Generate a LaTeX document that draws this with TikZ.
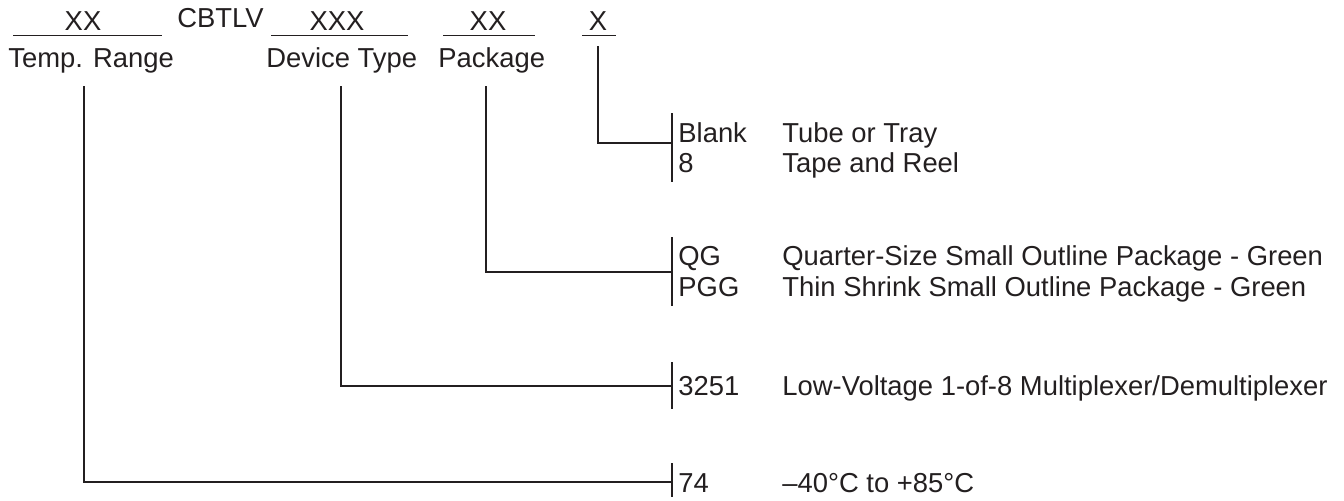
\documentclass[tikz,border=0pt]{standalone}
\usepackage{fontspec}
\setmainfont{Liberation Sans}
\definecolor{ink}{HTML}{231F20}
\begin{document}
\begin{tikzpicture}[x=0.5pt,y=-0.5pt,
  txt/.style={inner sep=0pt, text=ink, font=\fontsize{13.7}{16}\selectfont},
  lft/.style={txt, anchor=base west},
  mid/.style={txt, anchor=base},
  ln/.style={draw=ink, line width=0.6pt}]
\useasboundingbox (0,0) rectangle (1344,500);
% header codes
\node[mid] (cxx) at (83,30) {XX};
\node[lft] (cbt) at (177,27) {CBTLV};
\node[mid] (cxxx) at (337,30) {XXX};
\node[mid] (cpk) at (488,30) {XX};
\node[mid] (cx) at (598,30) {X};
% underlines
\coordinate (u1a) at (13,35.5); \coordinate (u1b) at (162,35.5);
\coordinate (u2a) at (271,35.5); \coordinate (u2b) at (408,35.5);
\coordinate (u3a) at (443,35.5); \coordinate (u3b) at (535,35.5);
\coordinate (u4a) at (582,35.5); \coordinate (u4b) at (616,35.5);
\draw[ln] (u1a) -- (u1b);
\draw[ln] (u2a) -- (u2b);
\draw[ln] (u3a) -- (u3b);
\draw[ln] (u4a) -- (u4b);
% header labels
\node[lft] (ltemp) at (8,67) {Temp. Range};
\node[lft] (ldev) at (266,67) {Device Type};
\node[lft] (lpkg) at (438,67) {Package};
% connector start points
\coordinate (sx) at (598,46);
\coordinate (spkg) at (486,86);
\coordinate (sdev) at (341,86);
\coordinate (stemp) at (84,86);
% bars
\coordinate (b1t) at (672,113); \coordinate (b1b) at (672,182); \coordinate (b1m) at (672,143);
\coordinate (b2t) at (672,237); \coordinate (b2b) at (672,306); \coordinate (b2m) at (672,272);
\coordinate (b3t) at (672,362); \coordinate (b3b) at (672,409); \coordinate (b3m) at (672,386);
\coordinate (b4t) at (672,463); \coordinate (b4b) at (672,497); \coordinate (b4m) at (672,482);
\draw[ln] (b1t) -- (b1b);
\draw[ln] (b2t) -- (b2b);
\draw[ln] (b3t) -- (b3b);
\draw[ln] (b4t) -- (b4b);
% connectors
\draw[ln] (sx) |- (b1m);
\draw[ln] (spkg) |- (b2m);
\draw[ln] (sdev) |- (b3m);
\draw[ln] (stemp) |- (b4m);
% option texts
\node[lft] (oblank) at (678,142) {Blank};
\node[lft] (dblank) at (782,142) {Tube or Tray};
\node[lft] (o8) at (678,172) {8};
\node[lft] (d8) at (782,172) {Tape and Reel};
\node[lft] (oqg) at (678,265) {QG};
\node[lft] (dqg) at (782,265) {Quarter-Size Small Outline Package - Green};
\node[lft] (opgg) at (678,296) {PGG};
\node[lft] (dpgg) at (782,296) {Thin Shrink Small Outline Package - Green};
\node[lft] (o3251) at (678,395) {3251};
\node[lft] (d3251) at (782,395) {Low-Voltage 1-of-8 Multiplexer/Demultiplexer};
\node[lft] (o74) at (678,492) {74};
\node[lft] (d74) at (782,492) {–40°C to +85°C};
\end{tikzpicture}
\end{document}
